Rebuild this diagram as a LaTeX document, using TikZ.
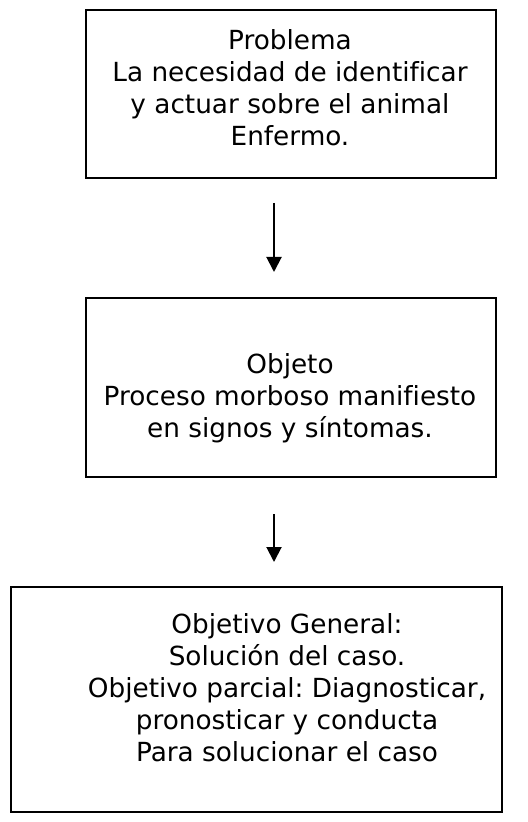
\documentclass[tikz,border=0pt]{standalone}
\usepackage{fontspec}
\setmainfont{DejaVu Sans}[Ligatures=NoCommon]
\usetikzlibrary{arrows.meta}
\frenchspacing

\begin{document}
\begin{tikzpicture}
	[x=0.5pt,y=-0.5pt,line width=1pt,
	 box/.style={draw,inner sep=0pt},
	 txt/.style={align=center,inner sep=0pt,anchor=north,font=\fontsize{13.15}{16}\selectfont}]
	\useasboundingbox (0,0) rectangle (528,822);
	\node[box,minimum width=410*0.5pt,minimum height=168*0.5pt] (prob) at (291,94) {};
	\node[box,minimum width=410*0.5pt,minimum height=179*0.5pt] (obj) at (291,387.5) {};
	\node[box,minimum width=491*0.5pt,minimum height=225*0.5pt] (meta) at (256.5,699.5) {};
	
	\node[txt] (tprob) at (290,29) {Problema\\La necesidad de identificar\\y actuar sobre el animal\\Enfermo.};
	\node[txt] (tobj) at (290,353) {Objeto\\Proceso morboso manifiesto\\en signos y síntomas.};
	\node[txt] (tmeta) at (287,613) {Objetivo General:\\Solución del caso.\\Objetivo parcial: Diagnosticar,\\pronosticar y conducta\\Para solucionar el caso};
	
	\coordinate (axis) at (274,0);
	\foreach \from/\to/\s/\e in {prob/obj/12/12.5,obj/meta/18/12}
	\draw[-{Triangle[width=7.5pt,length=7.5pt]},shorten <=\s pt,shorten >=\e pt] (axis |- \from.south) -- (axis |- \to.north);
\end{tikzpicture}
\end{document}
